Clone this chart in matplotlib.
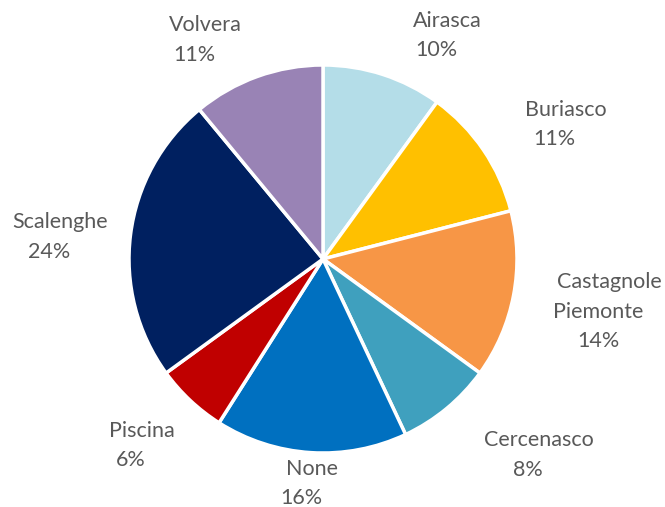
import matplotlib
matplotlib.use("Agg")
import matplotlib.pyplot as plt
import numpy as np

categories = ["Airasca", "Buriasco", "Castagnole\nPiemonte", "Cercenasco",
              "None", "Piscina", "Scalenghe", "Volvera"]
values = [10, 11, 14, 8, 16, 6, 24, 11]
colors = ["#B4DDE8", "#FFC000", "#F79646", "#3FA0BE",
          "#0070C0", "#C00000", "#002060", "#9983B5"]

# label block centre positions (axes data units, radius = 1)
label_pos = [(0.611, 1.160), (1.222, 0.701), (1.448, -0.263), (1.085, -1.003),
             (-0.085, -1.150), (-0.964, -0.954), (-1.384, 0.121), (-0.637, 1.137)]

plt.rcParams['font.family'] = ['Lato', 'DejaVu Sans']

W, H = 665, 507
fig = plt.figure(figsize=(W / 100, H / 100), dpi=100)
cx, cy, r = 323, 259, 194
ax = fig.add_axes([(cx - r) / W, (H - cy - r) / H, 2 * r / W, 2 * r / H])

wedges, _ = ax.pie(values, colors=colors, startangle=90, counterclock=False,
                   radius=1.0, wedgeprops=dict(edgecolor="white", linewidth=2.5))
ax.set_xlim(-1, 1)
ax.set_ylim(-1, 1)
ax.set_aspect('equal')
ax.axis('off')

total = sum(values)
LINE = 29.5   # px between lines
CAP = 7.5     # half cap height in px
SHIFT = 5.5   # first line sits a little to the right
for cat, v, (x, y) in zip(categories, values, label_pos):
    lines = cat.split("\n") + [f"{round(100 * v / total)}%"]
    n = len(lines)
    for i, s in enumerate(lines):
        dy = ((n - 1) / 2 - i) * LINE - CAP
        dx = SHIFT if i == 0 else -SHIFT
        ax.annotate(s, xy=(x, y), xytext=(dx, dy), textcoords='offset pixels',
                    ha='center', va='baseline', fontsize=15.5, color='#595959',
                    annotation_clip=False)

fig.savefig("out.png", dpi=100, facecolor="white")
